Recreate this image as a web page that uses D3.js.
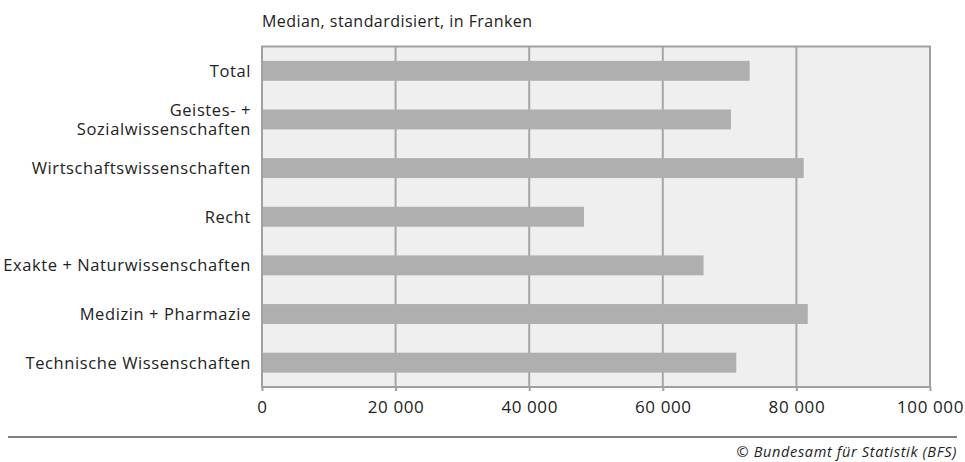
<!DOCTYPE html>
<html><head><meta charset="utf-8">
<script src="https://cdn.jsdelivr.net/npm/d3@7"></script>
<style>
body{margin:0;background:#fff;}
text{font-family:"Open Sans","Noto Sans",sans-serif;fill:#222;}
</style></head>
<body><svg id="c" width="965" height="462"></svg>
<script>
const categories = ["Total","Geistes- +|Sozialwissenschaften","Wirtschaftswissenschaften","Recht","Exakte + Naturwissenschaften","Medizin + Pharmazie","Technische Wissenschaften"];
const values = [73000, 70200, 81100, 48200, 66100, 81700, 71000];
const ticks = [0, 20000, 40000, 60000, 80000, 100000];
const title = "Median, standardisiert, in Franken";
const source = "© Bundesamt für Statistik (BFS)";

const svg = d3.select("#c");
const L = 262, R = 930, T = 46.5, B = 387;
const x = d3.scaleLinear().domain([0, 100000]).range([L, R]);
const y = d3.scaleBand().domain(categories).range([T, B]).paddingInner(0.59).paddingOuter(0.295);

svg.append("rect").attr("x", L).attr("y", T).attr("width", R - L).attr("height", B - T)
  .attr("fill", "#efefef");

svg.append("g").selectAll("line").data(ticks.slice(1, -1)).join("line")
  .attr("x1", d => x(d)).attr("x2", d => x(d)).attr("y1", T).attr("y2", B)
  .attr("stroke", "#a6a6a6").attr("stroke-width", 2);

svg.append("g").selectAll("rect").data(values).join("rect")
  .attr("x", x(0)).attr("y", (d, i) => y(categories[i]))
  .attr("width", d => x(d) - x(0)).attr("height", y.bandwidth())
  .attr("fill", "#afafaf");

svg.append("rect").attr("x", L).attr("y", T).attr("width", R - L).attr("height", B - T)
  .attr("fill", "none").attr("stroke", "#a0a0a0").attr("stroke-width", 2);

const xAxis = d3.axisBottom(x).tickValues(ticks).tickSize(4).tickPadding(10)
  .tickFormat(d => d3.format(",")(d).replace(/,/g, " "));
const gx = svg.append("g").attr("transform", `translate(0,${B})`).call(xAxis);
gx.select(".domain").remove();
gx.selectAll(".tick line").attr("stroke", "#a0a0a0").attr("stroke-width", 2);
gx.selectAll(".tick text").attr("font-size", 17).attr("letter-spacing", 0.6).attr("fill", "#222");

const gy = svg.append("g");
categories.forEach((c, i) => {
  const parts = c.split("|");
  const cy = y(c) + y.bandwidth() / 2;
  const t = gy.append("text").attr("x", 251).attr("text-anchor", "end")
    .attr("font-size", 16.5).attr("letter-spacing", 0.6);
  parts.forEach((p, j) => {
    t.append("tspan").attr("x", 251)
      .attr("y", cy + 6 + (j - (parts.length - 1) / 2) * 19)
      .text(p);
  });
});

svg.append("text").attr("x", 262).attr("y", 27).attr("font-size", 16)
  .attr("letter-spacing", 0.45).text(title);

svg.append("line").attr("x1", 8).attr("x2", 957).attr("y1", 437).attr("y2", 437)
  .attr("stroke", "#555").attr("stroke-width", 1.5);
svg.append("text").attr("x", 957).attr("y", 457).attr("text-anchor", "end")
  .attr("font-size", 14.5).attr("font-style", "italic").attr("letter-spacing", 0.65).text(source);
</script></body></html>
